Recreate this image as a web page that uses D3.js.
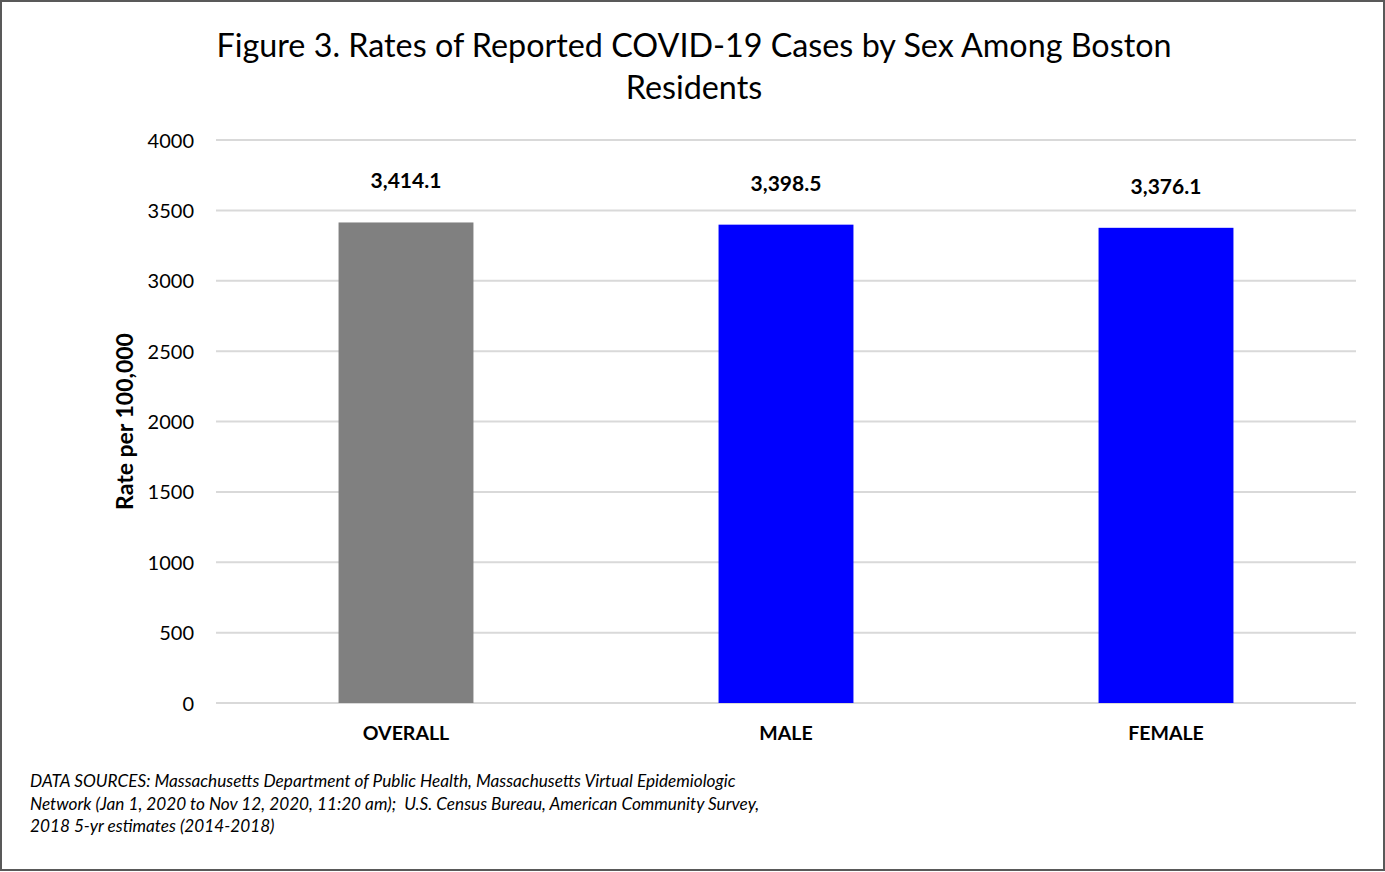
<!DOCTYPE html>
<html>
<head>
<meta charset="utf-8">
<script src="https://cdn.jsdelivr.net/npm/d3@7"></script>
<style>
  html, body { margin: 0; padding: 0; background: #fff; }
  svg { display: block; }
  text { white-space: pre; }
</style>
</head>
<body>
<svg id="chart" width="1385" height="872"></svg>
<script>
const categories = ["OVERALL", "MALE", "FEMALE"];
const values = [3414.1, 3398.5, 3376.1];
const barColors = ["#808080", "#0000FF", "#0000FF"];
const yTicks = [0, 500, 1000, 1500, 2000, 2500, 3000, 3500, 4000];
const titleLines = ["Figure 3. Rates of Reported COVID-19 Cases by Sex Among Boston", "Residents"];
const yAxisTitle = "Rate per 100,000";
const footnoteLines = [
  "DATA SOURCES: Massachusetts Department of Public Health, Massachusetts Virtual Epidemiologic",
  "Network (Jan 1, 2020 to Nov 12, 2020, 11:20 am);  U.S. Census Bureau, American Community Survey,",
  "2018 5-yr estimates (2014-2018)"
];

const FONT = "Lato, 'Open Sans', sans-serif";
const svg = d3.select("#chart");
const W = 1385, H = 872;
const plot = { left: 216, right: 1356, top: 140, bottom: 703 };

// border
svg.append("rect").attr("x", 1).attr("y", 1).attr("width", W - 2).attr("height", H - 3)
  .attr("fill", "#fff").attr("stroke", "#595959").attr("stroke-width", 2);

const x = d3.scaleBand().domain(categories).range([plot.left, plot.right]).paddingInner(0.645).paddingOuter(0.3225);
const y = d3.scaleLinear().domain([0, 4000]).range([plot.bottom, plot.top]);

// gridlines
svg.append("g").selectAll("line").data(yTicks).join("line")
  .attr("x1", plot.left).attr("x2", plot.right)
  .attr("y1", d => y(d)).attr("y2", d => y(d))
  .attr("stroke", "#d9d9d9").attr("stroke-width", 2);

// y axis labels
const yAxis = d3.axisLeft(y).tickValues(yTicks).tickSize(0).tickPadding(0).tickFormat(d3.format("d"));
const ya = svg.append("g").attr("transform", `translate(${plot.left - 22},0)`).call(yAxis);
ya.select(".domain").remove();
ya.selectAll("text").attr("font-family", FONT).attr("font-size", 20).attr("fill", "#000").attr("dy", "0.35em");

// bars
svg.append("g").selectAll("rect").data(values).join("rect")
  .attr("x", (d, i) => x(categories[i]))
  .attr("width", x.bandwidth())
  .attr("y", d => y(d))
  .attr("height", d => y(0) - y(d))
  .attr("fill", (d, i) => barColors[i]);

// value labels
const fmt = d3.format(",.1f");
svg.append("g").selectAll("text").data(values).join("text")
  .attr("x", (d, i) => x(categories[i]) + x.bandwidth() / 2)
  .attr("y", d => y(d) - 34)
  .attr("text-anchor", "middle")
  .attr("font-family", FONT).attr("font-weight", "bold").attr("font-size", 21)
  .attr("fill", "#000")
  .text(d => fmt(d));

// category labels
const xAxis = d3.axisBottom(x).tickSize(0).tickPadding(0);
const xa = svg.append("g").attr("transform", `translate(0,${plot.bottom + 37})`).call(xAxis);
xa.select(".domain").remove();
xa.selectAll("text").attr("font-family", FONT).attr("font-weight", "bold").attr("font-size", 19.5)
  .attr("fill", "#000").attr("dy", 0);

// title
svg.append("g").selectAll("text").data(titleLines).join("text")
  .attr("x", 694).attr("y", (d, i) => 57 + i * 42)
  .attr("text-anchor", "middle")
  .attr("font-family", FONT).attr("font-size", 32.3).attr("fill", "#000")
  .text(d => d);

// y axis title
svg.append("text")
  .attr("transform", `translate(133,${(plot.top + plot.bottom) / 2}) rotate(-90)`)
  .attr("text-anchor", "middle")
  .attr("font-family", FONT).attr("font-weight", "bold").attr("font-size", 23).attr("fill", "#000")
  .text(yAxisTitle);

// footnote
svg.append("g").selectAll("text").data(footnoteLines).join("text")
  .attr("x", 30).attr("y", (d, i) => 787 + i * 22.5)
  .attr("font-family", FONT).attr("font-style", "italic").attr("font-size", 17.2).attr("fill", "#000")
  .text(d => d);
</script>
</body>
</html>
